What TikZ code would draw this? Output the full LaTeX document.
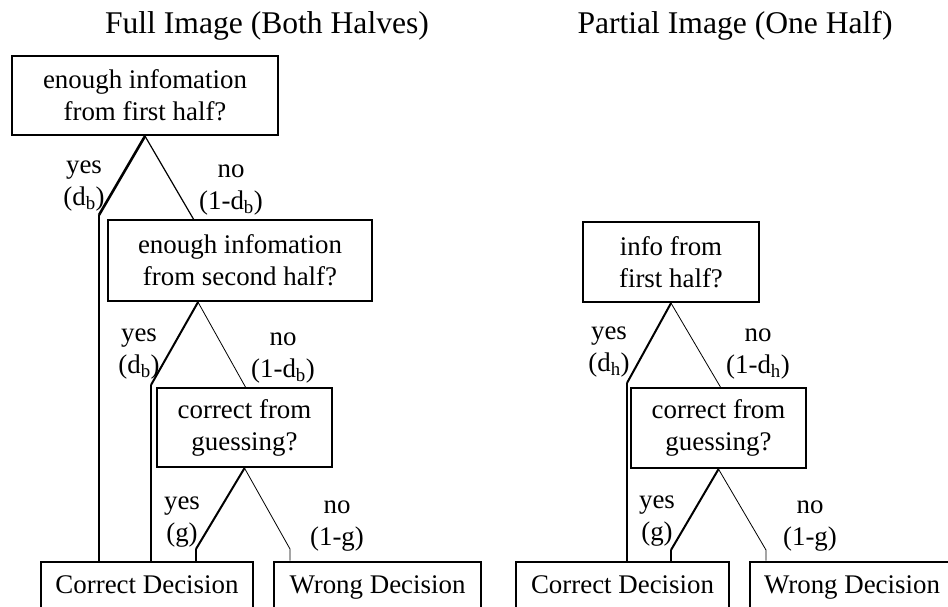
\documentclass[tikz,border=0pt]{standalone}
\usepackage{fontspec}
\setmainfont{Liberation Serif}
\newcommand\bodyfnt{\fontsize{26.9pt}{32pt}\selectfont}
\newcommand\ttlfnt{\fontsize{31.6pt}{36pt}\selectfont}
\begin{document}
\begin{tikzpicture}[x=1pt,y=-1pt,
  box/.style={draw,line width=2.2pt,inner sep=0pt,align=center,font=\bodyfnt},
  endbox/.style={draw,line width=2.6pt,inner sep=0pt,font=\bodyfnt,minimum height=49pt,text height=18pt,text depth=5pt},
  lbl/.style={inner sep=0pt,align=center,font=\bodyfnt},
  ttl/.style={inner sep=0pt,font=\ttlfnt},
  yesline/.style={line width=2pt},
  noline/.style={line width=0.9pt},
  vline/.style={line width=2.2pt}]
\useasboundingbox (0,0) rectangle (948,606);
\clip (0,0) rectangle (948,606);
% titles
\node[ttl] (t1) at (267,25.5) {Full Image (Both Halves)};
\node[ttl] (t2) at (735,25.5) {Partial Image (One Half)};
% left tree boxes
\node[box,minimum width=266pt,minimum height=79pt] (b1) at (145,95.5) {enough infomation\\from first half?};
\node[box,minimum width=264pt,minimum height=81pt] (b2) at (240,260.5) {enough infomation\\from second half?};
\node[box,minimum width=175pt,minimum height=79pt] (b3) at (244.5,427.5) {correct from\\guessing?};
\node[endbox,minimum width=212pt] (c1) at (147,586.5) {Correct Decision};
\node[endbox,minimum width=207pt] (w1) at (377.5,586.5) {Wrong Decision};
% right tree boxes
\node[box,minimum width=176pt,minimum height=80pt] (r1) at (671,262) {info from\\first half?};
\node[box,minimum width=175pt,minimum height=80pt] (r3) at (718.5,428) {correct from\\guessing?};
\node[endbox,minimum width=213pt] (c2) at (622.5,586.5) {Correct Decision};
\node[endbox,minimum width=204pt] (w2) at (852,586.5) {Wrong Decision};
% bend points
\coordinate (k1) at (99,215);
\coordinate (n1) at (194,220);
\coordinate (k2) at (151,385);
\coordinate (n2) at (246,388);
\coordinate (k3) at (196,549);
\coordinate (k4) at (290,549);
\coordinate (rk1) at (627,383);
\coordinate (rn1) at (721,388);
\coordinate (rk3) at (671,550);
\coordinate (rk4) at (766,550);
% left connectors
\draw[yesline,line width=2.6pt] (b1.south) -- (k1);
\draw[vline] (k1) -- (k1 |- c1.north);
\draw[noline,line width=1.2pt] (b1.south) -- (n1);
\draw[yesline] (b2.south -| 198,0) -- (k2);
\draw[vline] (k2) -- (k2 |- c1.north);
\draw[noline,line width=0.8pt] (b2.south -| 198,0) -- (n2);
\draw[yesline] (b3.south) -- (k3);
\draw[vline] (k3) -- (k3 |- c1.north);
\draw[noline,line width=0.8pt] (b3.south) -- (k4) -- (k4 |- w1.north);
% right connectors
\draw[yesline] (r1.south) -- (rk1);
\draw[vline] (rk1) -- (rk1 |- c2.north);
\draw[noline,line width=0.8pt] (r1.south) -- (rn1);
\draw[yesline] (r3.south) -- (rk3);
\draw[vline] (rk3) -- (rk3 |- c2.north);
\draw[noline,line width=0.8pt] (r3.south) -- (rk4) -- (rk4 |- w2.north);
% labels
\node[lbl] (y1) at (84,186) {yes\\(d\textsubscript{b})};
\node[lbl] (m1) at (231,190) {no\\(1-d\textsubscript{b})};
\node[lbl] (y2) at (139,354) {yes\\(d\textsubscript{b})};
\node[lbl] (m2) at (283,358) {no\\(1-d\textsubscript{b})};
\node[lbl] (y3) at (182,522) {yes\\(g)};
\node[lbl] (m3) at (337,526) {no\\(1-g)};
\node[lbl] (y4) at (609,352) {yes\\(d\textsubscript{h})};
\node[lbl] (m4) at (758,354) {no\\(1-d\textsubscript{h})};
\node[lbl] (y5) at (657,521) {yes\\(g)};
\node[lbl] (m5) at (810,526) {no\\(1-g)};
\end{tikzpicture}
\end{document}
